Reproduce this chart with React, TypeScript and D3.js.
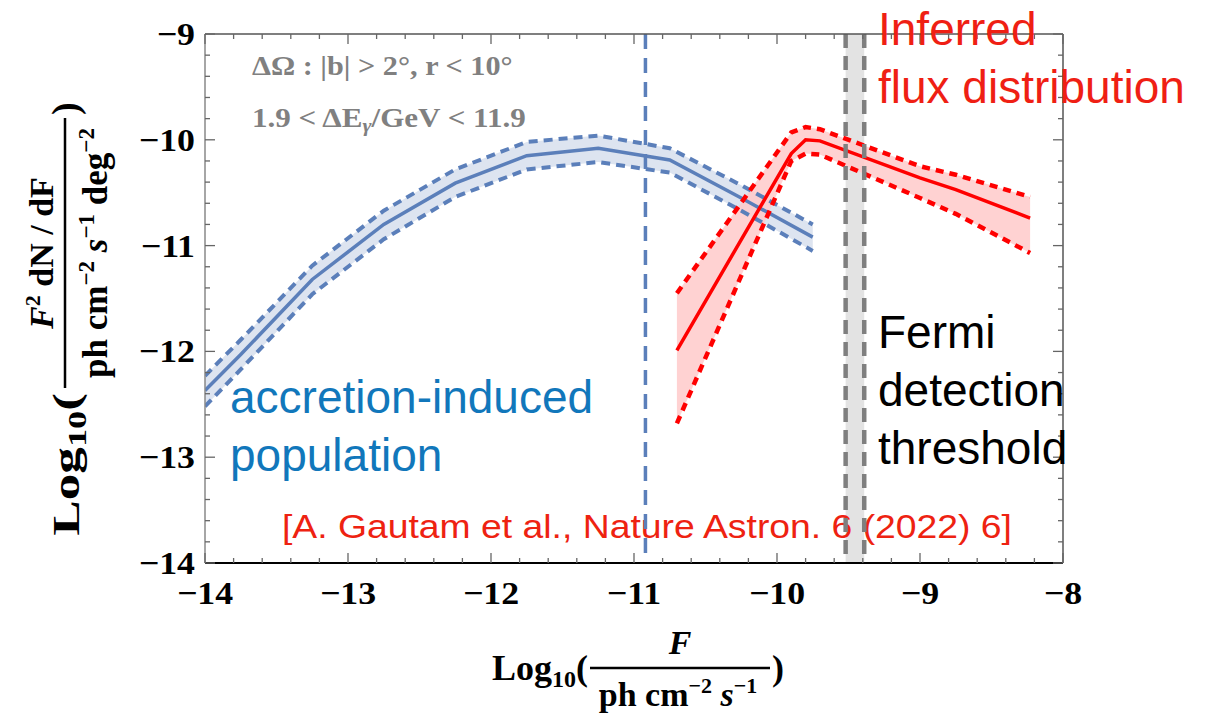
import React from "react";
import * as d3 from "d3";

const W = 1215;
const H = 718;
const M = { left: 205, right: 1063, top: 34, bottom: 563 };

const X_TICKS = [-14, -13, -12, -11, -10, -9, -8];
const Y_TICKS = [-14, -13, -12, -11, -10, -9];

// accretion-induced population (blue)
const blueX = [-14, -13.75, -13.25, -12.75, -12.25, -11.75, -11.25, -10.75, -10.25, -9.75];
const blueMid = [-12.37, -12.03, -11.32, -10.8, -10.41, -10.15, -10.08, -10.19, -10.55, -10.92];
const blueUp = [-12.23, -11.89, -11.19, -10.67, -10.28, -10.02, -9.96, -10.08, -10.43, -10.80];
const blueLo = [-12.52, -12.17, -11.46, -10.94, -10.54, -10.28, -10.21, -10.31, -10.67, -11.05];

// inferred flux distribution (red)
const redX = [-10.7, -9.9, -9.8, -9.7, -9.0, -8.75, -8.23];
const redMid = [-11.99, -10.13, -10.0, -10.01, -10.36, -10.47, -10.74];
const redUp = [-11.45, -9.93, -9.88, -9.9, -10.25, -10.33, -10.54];
const redLo = [-12.68, -10.2, -10.13, -10.14, -10.55, -10.7, -11.07];

const blueVLine = -10.92;
const fermiBand = [-9.52, -9.39];

const BLUE = "#5b7fba";
const BLUE_FILL = "#dde4f0";
const RED = "#ff0000";
const RED_FILL = "#ffcaca";

export default function App() {
  const x = d3.scaleLinear().domain([-14, -8]).range([M.left, M.right]);
  const y = d3.scaleLinear().domain([-14, -9]).range([M.bottom, M.top]);

  const mkLine = (xs: number[], ys: number[]) =>
    d3.line<number>().x((_, i) => x(xs[i])).y((d) => y(d))(ys) as string;
  const mkArea = (xs: number[], lo: number[], up: number[]) =>
    d3
      .area<number>()
      .x((_, i) => x(xs[i]))
      .y0((_, i) => y(lo[i]))
      .y1((_, i) => y(up[i]))(xs) as string;

  const minorX = d3.range(-14, -8 + 1e-9, 0.2);
  const minorY = d3.range(-14, -9 + 1e-9, 0.2);
  const isMajor = (v: number) => Math.abs(v - Math.round(v)) < 1e-6;

  const serifB = "'Liberation Serif', 'Times New Roman', serif";
  const sans = "'Liberation Sans', Arial, Helvetica, sans-serif";
  const tickFont = {
    fontFamily: serifB,
    fontWeight: "bold" as const,
    fontSize: 32,
  };

  return (
    <svg
      width={W}
      height={H}
      style={{ position: "absolute", left: 0, top: 0, display: "block", background: "#fff" }}
    >
      <defs>
        <clipPath id="plotClip">
          <rect x={M.left} y={M.top} width={M.right - M.left} height={M.bottom - M.top} />
        </clipPath>
      </defs>

      {/* Fermi band */}
      <rect
        x={x(fermiBand[0])}
        y={M.top}
        width={x(fermiBand[1]) - x(fermiBand[0])}
        height={M.bottom - M.top}
        fill="#e3e3e3"
      />

      <g clipPath="url(#plotClip)">
        <path d={mkArea(blueX, blueLo, blueUp)} fill={BLUE_FILL} />
        <path d={mkArea(redX, redLo, redUp)} fill={RED_FILL} fillOpacity={0.85} />
        <path d={mkLine(blueX, blueUp)} fill="none" stroke={BLUE} strokeWidth={4} strokeDasharray="9 6" />
        <path d={mkLine(blueX, blueLo)} fill="none" stroke={BLUE} strokeWidth={4} strokeDasharray="9 6" />
        <path d={mkLine(blueX, blueMid)} fill="none" stroke={BLUE} strokeWidth={3.5} />
        <path d={mkLine(redX, redUp)} fill="none" stroke={RED} strokeWidth={4.5} strokeDasharray="8 6" />
        <path d={mkLine(redX, redLo)} fill="none" stroke={RED} strokeWidth={4.5} strokeDasharray="8 6" />
        <path d={mkLine(redX, redMid)} fill="none" stroke={RED} strokeWidth={3.5} />
      </g>

      {/* citation */}
      <text x={282} y={538} fill="#ee2211" fontFamily={sans} fontSize={34} textLength={730} lengthAdjust="spacingAndGlyphs">
        [A. Gautam et al., Nature Astron. 6 (2022) 6]
      </text>

      {/* vertical lines */}
      <line x1={x(blueVLine)} x2={x(blueVLine)} y1={M.top} y2={M.bottom} stroke={BLUE} strokeWidth={3.5} strokeDasharray="15 9" />
      {fermiBand.map((v, i) => (
        <line key={i} x1={x(v)} x2={x(v)} y1={M.top} y2={M.bottom} stroke="#7f7f7f" strokeWidth={4.5} strokeDasharray="14 8" />
      ))}

      {/* frame */}
      <line x1={M.left} x2={M.right} y1={M.bottom} y2={M.bottom} stroke="#000" strokeWidth={2} />
      <line x1={M.left} x2={M.left} y1={M.top} y2={M.bottom} stroke="#888" strokeWidth={1.5} />
      <line x1={M.left} x2={M.right} y1={M.top} y2={M.top} stroke="#555" strokeWidth={1.5} />
      <line x1={M.right} x2={M.right} y1={M.top} y2={M.bottom} stroke="#555" strokeWidth={1.5} />

      {/* ticks */}
      {minorX.map((v, i) => {
        const len = isMajor(v) ? 10 : 5;
        return (
          <g key={"tx" + i} stroke="#666" strokeWidth={1.3}>
            <line x1={x(v)} x2={x(v)} y1={M.bottom} y2={M.bottom - len} />
            <line x1={x(v)} x2={x(v)} y1={M.top} y2={M.top + len} />
          </g>
        );
      })}
      {minorY.map((v, i) => {
        const len = isMajor(v) ? 10 : 5;
        return (
          <g key={"ty" + i} stroke="#666" strokeWidth={1.3}>
            <line x1={M.left} x2={M.left + len} y1={y(v)} y2={y(v)} />
            <line x1={M.right} x2={M.right - len} y1={y(v)} y2={y(v)} />
          </g>
        );
      })}

      {/* tick labels */}
      {X_TICKS.map((v) => (
        <text key={"xl" + v} transform={`translate(${x(v)},604) scale(1.12,1)`} textAnchor="middle" {...tickFont}>
          {"\u2212" + Math.abs(v)}
        </text>
      ))}
      {Y_TICKS.map((v) => (
        <text key={"yl" + v} transform={`translate(195,${y(v) + 11}) scale(1.12,1)`} textAnchor="end" {...tickFont}>
          {"\u2212" + Math.abs(v)}
        </text>
      ))}

      {/* gray annotations */}
      <text transform="translate(252,75) scale(1.12,1)" fill="#808080" fontFamily={serifB} fontWeight="bold" fontSize={27}>
        ΔΩ : |b| &gt; 2°, r &lt; 10°
      </text>
      <text transform="translate(252,127) scale(1.15,1)" fill="#808080" fontFamily={serifB} fontWeight="bold" fontSize={27}>
        1.9 &lt; ΔE
        <tspan fontStyle="italic" fontSize={19} dy={5}>γ</tspan>
        <tspan dy={-5}>/GeV &lt; 11.9</tspan>
      </text>

      {/* big annotations */}
      <g fontFamily={sans} fontSize={46}>
        <text x={878} y={45} fill="#ef1f14">Inferred</text>
        <text x={878} y={103} fill="#ef1f14">flux distribution</text>
        <text x={878} y={348} fill="#000">Fermi</text>
        <text x={878} y={406} fill="#000">detection</text>
        <text x={878} y={464} fill="#000">threshold</text>
        <text x={230} y={413} fill="#1177bb">accretion-induced</text>
        <text x={230} y={471} fill="#1177bb">population</text>
      </g>

      {/* y-axis label */}
      <g transform="translate(65,253) rotate(-90)" fontFamily={serifB} fontWeight="bold" fill="#000">
        <line x1={-135} x2={135} y1={0} y2={0} stroke="#000" strokeWidth={2.5} />
        <text x={0} y={-12} textAnchor="middle" fontSize={34}>
          <tspan fontStyle="italic">F</tspan>
          <tspan fontSize={22} dy={-13}>2</tspan>
          <tspan dy={13}> dN / dF</tspan>
        </text>
        <text x={0} y={42} textAnchor="middle" fontSize={35}>
          ph cm
          <tspan fontSize={23} dy={-13}>−2</tspan>
          <tspan dy={13}> </tspan>
          <tspan fontStyle="italic">s</tspan>
          <tspan fontSize={23} dy={-13}>−1</tspan>
          <tspan dy={13}> deg</tspan>
          <tspan fontSize={23} dy={-13}>−2</tspan>
        </text>
        <text transform="translate(-140,14) scale(1.4,1)" textAnchor="end" fontSize={38}>
          Log<tspan fontSize={26} dy={7}>10</tspan>
          <tspan dy={-7}>(</tspan>
        </text>
        <text x={138} y={13} fontSize={38}>)</text>
      </g>

      {/* x-axis label */}
      <g fontFamily={serifB} fontWeight="bold" fill="#000">
        <line x1={590} x2={770} y1={668} y2={668} stroke="#000" strokeWidth={2.5} />
        <text x={680} y={654} textAnchor="middle" fontSize={34} fontStyle="italic">F</text>
        <text x={678} y={706} textAnchor="middle" fontSize={34}>
          ph cm
          <tspan fontSize={22} dy={-13}>−2</tspan>
          <tspan dy={13}> </tspan>
          <tspan fontStyle="italic">s</tspan>
          <tspan fontSize={22} dy={-13}>−1</tspan>
        </text>
        <text x={588} y={680} textAnchor="end" fontSize={36}>
          Log<tspan fontSize={24} dy={7}>10</tspan>
          <tspan dy={-7}>(</tspan>
        </text>
        <text x={772} y={680} fontSize={36}>)</text>
      </g>
    </svg>
  );
}
